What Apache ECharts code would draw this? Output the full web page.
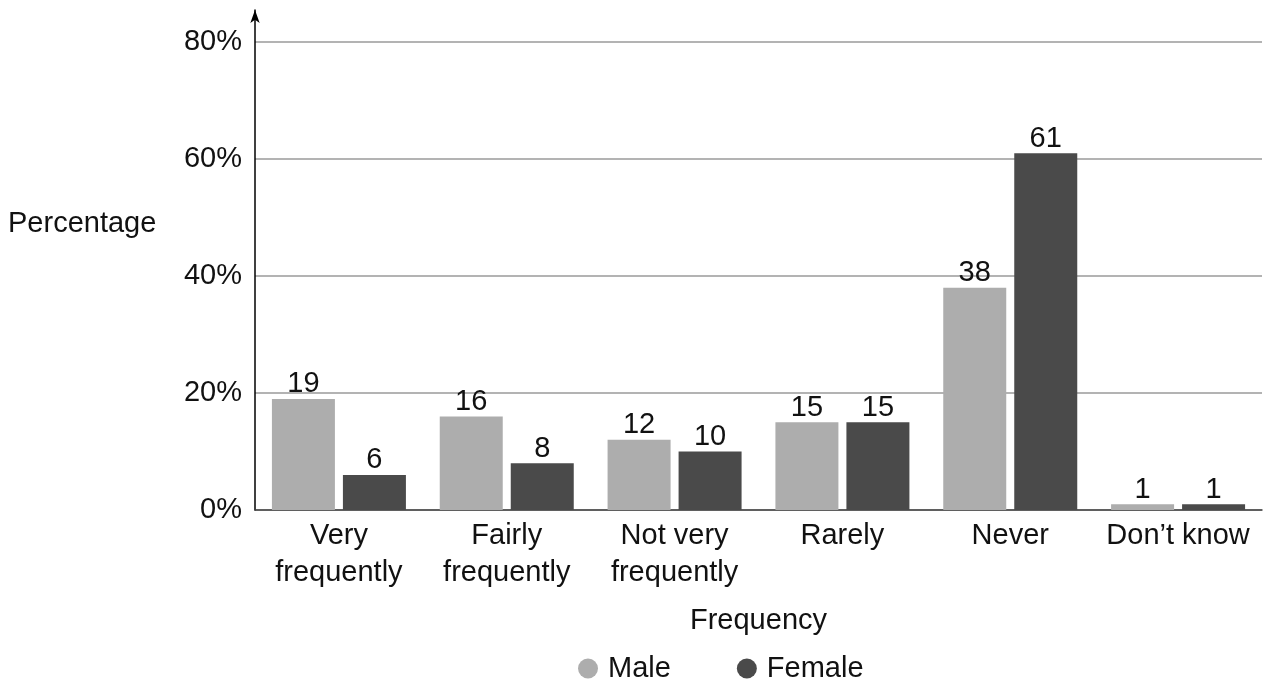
<!DOCTYPE html>
<html><head><meta charset="utf-8">
<script src="https://cdn.jsdelivr.net/npm/echarts@6/dist/echarts.min.js"></script>
<style>html,body{margin:0;padding:0;background:#fff}#c{width:1267px;height:686px}</style>
</head><body><div id="c"></div>
<script>
const categories = ['Very\nfrequently', 'Fairly\nfrequently', 'Not very\nfrequently', 'Rarely', 'Never', 'Don\u2019t know'];
const male = [19, 16, 12, 15, 38, 1];
const female = [6, 8, 10, 15, 61, 1];
const yTicks = [0, 20, 40, 60, 80];

const font = 'Liberation Sans, Arial, Helvetica, sans-serif';
const fs = 29;
const chart = echarts.init(document.getElementById('c'));
chart.setOption({
  animation: false,
  textStyle: { fontFamily: font },
  title: { text: 'Percentage', left: 3, top: 204, textStyle: { fontSize: fs, fontWeight: 'normal', color: '#111', fontFamily: font } },
  grid: { left: 255, right: 5, top: 10, bottom: 176, containLabel: false },
  legend: {
    bottom: -2, left: 573, icon: 'circle', itemWidth: 20, itemHeight: 20, itemGap: 66,
    textStyle: { fontSize: fs, color: '#111', fontFamily: font, padding: [0, 0, 0, 5] },
    data: ['Male', 'Female']
  },
  xAxis: {
    type: 'category', data: categories,
    name: 'Frequency', nameLocation: 'middle', nameGap: 96,
    nameTextStyle: { fontSize: fs, color: '#111', fontFamily: font },
    axisLine: { lineStyle: { color: '#444', width: 1.5 } },
    axisTick: { show: false },
    axisLabel: { fontSize: fs, color: '#111', lineHeight: 37, margin: 7, interval: 0, fontFamily: font }
  },
  yAxis: {
    type: 'value', min: 0, max: 85.5, interval: 20,
    axisLine: { show: true, symbol: ['none', 'arrow'], symbolSize: [7, 13], symbolOffset: [0, 0], lineStyle: { color: '#000', width: 1.5 } },
    axisTick: { show: false },
    splitLine: { show: true, showMaxLine: false, lineStyle: { color: '#9a9a9a', width: 1.5 } },
    axisLabel: { fontSize: fs, color: '#111', margin: 13, fontFamily: font,
      formatter: v => yTicks.indexOf(v) >= 0 ? v + '%' : '' }
  },
  series: [
    { name: 'Male', type: 'bar', data: male, barWidth: 63, barGap: '12.7%', itemStyle: { color: '#adadad' },
      label: { show: true, position: 'top', distance: 0, fontSize: fs, color: '#111', fontFamily: font } },
    { name: 'Female', type: 'bar', data: female, barWidth: 63, itemStyle: { color: '#4a4a4a' },
      label: { show: true, position: 'top', distance: 0, fontSize: fs, color: '#111', fontFamily: font } }
  ]
});
</script></body></html>
